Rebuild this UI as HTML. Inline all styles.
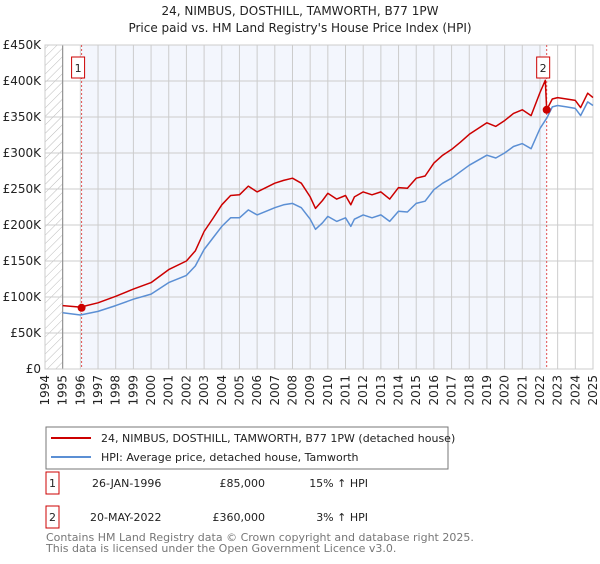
<!DOCTYPE html>
<html><head><meta charset="utf-8"><style>
body{margin:0;background:#fff;font-family:"DejaVu Sans","Liberation Sans",sans-serif;}
svg text{font-family:"DejaVu Sans","Liberation Sans",sans-serif;}
</style></head><body>
<svg id="chart" width="600" height="560" xmlns="http://www.w3.org/2000/svg">
<defs><pattern id="hatch" width="6" height="6" patternUnits="userSpaceOnUse" patternTransform="rotate(45)"><line x1="0" y1="0" x2="0" y2="6" stroke="#bbb" stroke-width="1"/></pattern></defs>
<text x="300" y="15" text-anchor="middle" font-size="12" fill="#222">24, NIMBUS, DOSTHILL, TAMWORTH, B77 1PW</text>
<text x="300" y="32" text-anchor="middle" font-size="12" fill="#222">Price paid vs. HM Land Registry's House Price Index (HPI)</text>
<g id="plot"></g>
<g>
<rect x="46" y="427" width="402" height="42" fill="#fff" stroke="#777"/>
<line x1="51" y1="438" x2="91" y2="438" stroke="#cc0000" stroke-width="2"/>
<text x="101" y="442" font-size="11" fill="#222">24, NIMBUS, DOSTHILL, TAMWORTH, B77 1PW (detached house)</text>
<line x1="51" y1="457" x2="91" y2="457" stroke="#5b8fd4" stroke-width="2"/>
<text x="101" y="461" font-size="11" fill="#222">HPI: Average price, detached house, Tamworth</text>
</g>
<g font-size="11" fill="#222">
<rect x="46" y="472" width="13" height="22" fill="#fff" stroke="#cc0000"/><text x="52.5" y="487" text-anchor="middle">1</text>
<text x="92" y="487">26-JAN-1996</text><text x="265" y="487" text-anchor="end">£85,000</text><text x="368" y="487" text-anchor="end">15% ↑ HPI</text>
<rect x="46" y="506" width="13" height="22" fill="#fff" stroke="#cc0000"/><text x="52.5" y="521" text-anchor="middle">2</text>
<text x="90" y="521">20-MAY-2022</text><text x="265" y="521" text-anchor="end">£360,000</text><text x="368" y="521" text-anchor="end">3% ↑ HPI</text>
</g>
<text x="46" y="541" font-size="11" fill="#777">Contains HM Land Registry data © Crown copyright and database right 2025.</text>
<text x="46" y="552" font-size="11" fill="#777">This data is licensed under the Open Government Licence v3.0.</text>
</svg>
<script>
const yTicks=[0,50,100,150,200,250,300,350,400,450];
const yTickLabels=["£0","£50K","£100K","£150K","£200K","£250K","£300K","£350K","£400K","£450K"];
const xYears=[1994,1995,1996,1997,1998,1999,2000,2001,2002,2003,2004,2005,2006,2007,2008,2009,2010,2011,2012,2013,2014,2015,2016,2017,2018,2019,2020,2021,2022,2023,2024,2025];
const hpiTimes=[1995,1996,1997,1998,1999,2000,2001,2002,2002.5,2003,2003.5,2004,2004.5,2005,2005.5,2006,2006.5,2007,2007.5,2008,2008.5,2009,2009.3,2009.7,2010,2010.5,2011,2011.3,2011.5,2012,2012.5,2013,2013.5,2014,2014.5,2015,2015.5,2016,2016.5,2017,2017.5,2018,2018.5,2019,2019.5,2020,2020.5,2021,2021.5,2022,2022.4,2022.7,2023,2023.5,2024,2024.3,2024.7,2025];
const hpiValues=[78,75,80,88,97,104,120,130,143,166,182,198,210,210,221,214,219,224,228,230,224,208,194,203,212,205,210,198,208,214,210,214,205,219,218,230,233,249,258,265,274,283,290,297,293,300,309,313,306,334,349,364,366,364,362,352,371,366];
const priceTimes=[1995,1996,1997,1998,1999,2000,2001,2002,2002.5,2003,2003.5,2004,2004.5,2005,2005.5,2006,2006.5,2007,2007.5,2008,2008.5,2009,2009.3,2009.7,2010,2010.5,2011,2011.3,2011.5,2012,2012.5,2013,2013.5,2014,2014.5,2015,2015.5,2016,2016.5,2017,2017.5,2018,2018.5,2019,2019.5,2020,2020.5,2021,2021.5,2022,2022.3,2022.38,2022.7,2023,2023.5,2024,2024.3,2024.7,2025];
const priceValues=[88,86,92,101,111,120,138,150,164,191,209,228,241,242,254,246,252,258,262,265,258,239,223,234,244,236,241,228,239,246,242,246,236,252,251,265,268,286,297,305,315,326,334,342,337,345,355,360,352,384,401,360,375,377,375,373,363,383,377];
const saleTimes=[1996.07,2022.38];
const saleValues=[85,360];
const saleLabels=["1","2"];

const NS="http://www.w3.org/2000/svg";
const L=45,R=593,T=45,B=369;
const xS=t=>L+(t-1994)/(2025-1994)*(R-L);
const yS=v=>B-v/450*(B-T);
const g=document.getElementById('plot');
function mk(tag,attrs){const e=document.createElementNS(NS,tag);for(const k in attrs)e.setAttribute(k,attrs[k]);g.appendChild(e);return e;}
let e;
e=mk('rect',{x:xS(1994),y:T,width:xS(1995)-xS(1994),height:B-T,fill:'url(#hatch)'});


e=mk('rect',{x:xS(saleTimes[0]),y:T,width:xS(saleTimes[1])-xS(saleTimes[0]),height:B-T,fill:'#f3f6fd'});


xYears.forEach(yr=>{
 e=mk('line',{x1:xS(yr),x2:xS(yr),y1:T,y2:B,stroke:'#ccc','stroke-width':1});
 
 
 e=mk('text',{x:0,y:0,'font-size':12,fill:'#222','text-anchor':'end',transform:`translate(${xS(yr)+4},${B+6}) rotate(-90)`});
 e.textContent=String(yr);
 
 
});
yTicks.forEach((v,i)=>{
 e=mk('line',{x1:L,x2:R,y1:yS(v),y2:yS(v),stroke:'#ccc','stroke-width':1});
 
 
 e=mk('text',{x:L-4,y:yS(v)+4,'font-size':12,fill:'#222','text-anchor':'end'});
 e.textContent=yTickLabels[i];
 
 
});
e=mk('line',{x1:xS(1995),x2:xS(1995),y1:T,y2:B,stroke:'#888','stroke-width':1});


e=mk('rect',{x:L,y:T,width:R-L,height:B-T,fill:'none',stroke:'#ccc'});


saleTimes.forEach((t,i)=>{
 e=mk('line',{x1:xS(t),x2:xS(t),y1:T,y2:B,stroke:'#e05050','stroke-width':1,'stroke-dasharray':'2,2'});
 
 
});
function path(ts,vs,col,name){
 let d=ts.map((t,i)=>(i?'L':'M')+xS(t).toFixed(1)+','+yS(vs[i]).toFixed(1)).join('');
 e=mk('path',{d:d,fill:'none',stroke:col,'stroke-width':1.5,'stroke-linejoin':'round'});
 
 
}
path(hpiTimes,hpiValues,'#5b8fd4','hpi-line');
path(priceTimes,priceValues,'#cc0000','price-line');
saleTimes.forEach((t,i)=>{
 e=mk('circle',{cx:xS(t),cy:yS(saleValues[i]),r:4,fill:'#cc0000'});
 
 
 e=mk('rect',{x:xS(t)-10,y:T+12,width:13,height:21,fill:'#fff',stroke:'#cc0000'});
 
 
 e=mk('text',{x:xS(t)-3.5,y:T+27,'font-size':11,fill:'#222','text-anchor':'middle'});
 e.textContent=saleLabels[i];
 
 
});
</script>
</body></html>
